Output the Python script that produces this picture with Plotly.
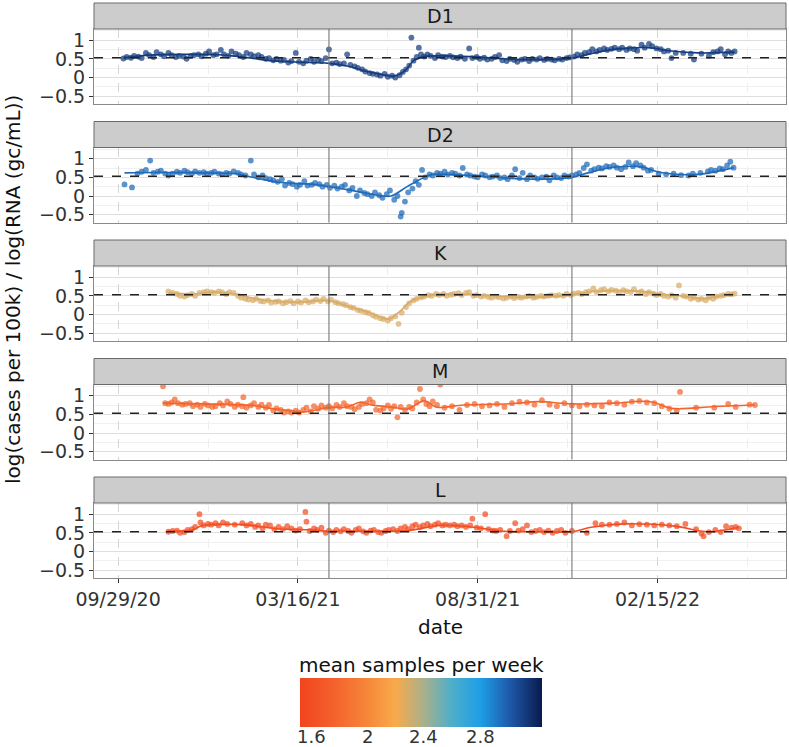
import pandas as pd
import plotly.graph_objects as go
from plotly.colors import sample_colorscale

BASE = pd.Timestamp("2020-09-29")

PANELS = ["D1", "D2", "K", "M", "L"]
SAMPLES_PER_WEEK = [3.12, 2.96, 2.28, 1.78, 1.6]

X_TICKS = ["2020-09-29", "2021-03-16", "2021-08-31", "2022-02-15"]
X_TICK_TEXT = ["09/29/20", "03/16/21", "08/31/21", "02/15/22"]
X_MINOR = ["2020-12-22", "2021-06-08", "2021-11-23", "2022-05-10"]
PERIOD_LINES = ["2021-04-14", "2021-11-27"]
Y_TICKS = [-0.5, 0, 0.5, 1]
Y_TICK_TEXT = ["\u22120.5", "0", "0.5", "1"]
Y_MINOR = [-0.25, 0.25, 0.75, 1.25]
REF_LEVEL = 0.53
CB_TICKS = [1.6, 2.0, 2.4, 2.8]
CB_TICK_TEXT = ["1.6", "2", "2.4", "2.8"]
CB_MIN, CB_MAX = 1.52, 3.24

# ---------------- D1 ----------------
d1_day = [5, 8, 12, 15, 19, 22, 26, 29, 33, 36, 40, 43, 47, 50, 54, 57, 61, 64, 68, 71, 75, 78, 82, 85, 89, 92, 96, 99,
          103, 106, 110, 113, 117, 120, 124, 127, 131, 134,
          138, 141, 145, 148, 152, 155, 159, 162, 166, 169, 173, 176, 180, 183, 187, 190, 194, 197, 200, 204, 207, 211, 214, 217,
          221, 224, 228, 231, 235, 238, 242, 245, 249, 252, 256, 259, 263, 266, 269, 272, 274, 276, 279, 281, 283, 286, 289,
          292, 296, 299, 303, 306, 310, 313, 317, 320, 324, 328, 331, 335, 338, 342, 345, 349, 352, 356, 359, 363, 366, 370,
          373, 377, 380, 384, 387, 391, 394, 398, 401, 405, 408, 412, 415,
          419, 422, 426, 429, 433, 436, 440, 443, 447, 450, 454, 457, 461, 464, 468, 471, 475, 478, 482, 485, 489, 492, 496,
          499, 503, 507, 510, 514, 517, 521, 528, 535, 538, 545, 552, 556, 560, 563, 567, 570, 573, 576]
d1_val = [0.51, 0.55, 0.53, 0.58, 0.56, 0.52, 0.66, 0.6, 0.55, 0.68, 0.62, 0.57, 0.66, 0.6, 0.55, 0.58, 0.56, 0.5, 0.58, 0.6,
          0.62, 0.57, 0.64, 0.7, 0.6, 0.62, 0.74, 0.62, 0.58, 0.7, 0.64, 0.6, 0.55, 0.66, 0.62, 0.57, 0.6, 0.55,
          0.5, 0.52, 0.46, 0.5, 0.45, 0.47, 0.4, 0.44, 0.66, 0.42, 0.38, 0.45, 0.5, 0.42, 0.48, 0.44, 0.52, 0.75, 0.38, 0.4,
          0.36, 0.38, 0.62, 0.34,
          0.3, 0.26, 0.22, 0.16, 0.12, 0.1, 0.08, 0.05, 0.1, 0.02, 0.05, 0.0, 0.06, 0.15, 0.22, 0.32, 1.07, 0.45, 0.55, 0.8,
          0.62, 0.56, 0.62,
          0.58, 0.52, 0.6, 0.56, 0.55, 0.58, 0.54, 0.52, 0.56, 0.5, 0.78, 0.52, 0.55, 0.5, 0.53, 0.48, 0.5, 0.55, 0.6, 0.46,
          0.44, 0.5, 0.47, 0.42, 0.48, 0.5, 0.44, 0.5, 0.48, 0.52, 0.47, 0.5, 0.48, 0.46, 0.5, 0.48,
          0.52, 0.54, 0.56, 0.62, 0.6, 0.66, 0.68, 0.76, 0.7, 0.74, 0.78, 0.74, 0.77, 0.8, 0.76, 0.8, 0.74, 0.78, 0.76, 0.72,
          0.88, 0.8, 0.9, 0.84, 0.78, 0.76, 0.7, 0.72, 0.52, 0.66, 0.66, 0.64, 0.48, 0.64, 0.58, 0.68, 0.7, 0.76, 0.62, 0.7,
          0.66, 0.7]
d1_fit_day = [5, 30, 60, 95, 110, 125, 139, 155, 170, 197, 215, 233, 250, 258, 268, 276, 286, 300, 329, 355, 375, 400,
              424, 445, 465, 495, 517, 542, 576]
d1_fit_val = [0.53, 0.6, 0.62, 0.61, 0.57, 0.52, 0.46, 0.43, 0.41, 0.38, 0.3, 0.16, 0.06, 0.04, 0.18, 0.45, 0.56, 0.58,
              0.56, 0.51, 0.48, 0.48, 0.52, 0.66, 0.76, 0.8, 0.71, 0.66, 0.68]

# ---------------- D2 ----------------
d2_day = [6, 13, 18, 22, 26, 30, 33, 37, 40, 44, 47, 51, 55, 58, 62, 65, 69, 72, 76, 80, 83, 87, 90, 94, 97, 101, 104,
          108, 112, 115, 119, 124, 127, 131, 135, 138, 142, 145, 149, 153, 156, 160, 163, 167, 170, 174, 177, 181, 184,
          188, 191, 195, 198, 202, 205, 209, 212, 216, 219, 223, 226, 230, 233, 237, 240, 244, 247, 251, 254, 258, 261,
          264, 265, 268, 271, 275, 278, 281, 284, 287, 291, 294, 298, 301, 305, 308, 312, 315, 319, 322, 326, 329, 333,
          336, 340, 343, 347, 350, 354, 357, 361, 364, 368, 371, 375, 378, 382, 385, 389, 392, 396, 400, 403, 407, 410,
          414, 417, 421, 424, 428, 431, 435, 438, 442, 445, 449, 452, 456, 459, 463, 466, 470, 474, 477, 481, 484, 488,
          491, 495, 498, 505, 512, 519, 526, 533, 537, 544, 551, 554, 558, 562, 565, 569, 572, 575]
d2_val = [0.31, 0.23, 0.6, 0.65, 0.7, 0.95, 0.62, 0.65, 0.68, 0.6, 0.55, 0.6, 0.65, 0.62, 0.68, 0.64, 0.6, 0.66, 0.62,
          0.64, 0.6, 0.62, 0.65, 0.6, 0.58, 0.62, 0.6, 0.66, 0.62, 0.58, 0.55, 0.95, 0.58, 0.5, 0.55, 0.48, 0.45, 0.42,
          0.38, 0.45, 0.28, 0.35, 0.32, 0.25, 0.3, 0.4, 0.28, 0.3, 0.35, 0.32, 0.25, 0.3, 0.22, 0.28, 0.2, 0.25, 0.3,
          0.15, 0.22, 0.0, 0.15, 0.08, 0.05, 0.0, 0.1, 0.02, -0.05, 0.05, 0.15, -0.1, 0.0, -0.55, -0.45, -0.15, 0.1,
          0.2, 0.4, 0.3, 0.7, 0.5, 0.58, 0.55, 0.62, 0.6, 0.65, 0.58, 0.62, 0.6, 0.55, 0.75, 0.58, 0.55, 0.52, 0.5,
          0.58, 0.55, 0.5, 0.52, 0.55, 0.48, 0.5, 0.45, 0.55, 0.72, 0.48, 0.62, 0.45, 0.55, 0.5, 0.46, 0.5, 0.52, 0.42,
          0.55, 0.5, 0.48, 0.55, 0.52, 0.55, 0.58, 0.62, 0.75, 0.85, 0.68, 0.72, 0.76, 0.74, 0.8, 0.78, 0.82, 0.76,
          0.72, 0.78, 0.9, 0.8, 0.88, 0.82, 0.76, 0.68, 0.7, 0.6, 0.58, 0.6, 0.56, 0.55, 0.6, 0.62, 0.66, 0.7, 0.68,
          0.74, 0.72, 0.82, 0.92, 0.76]
d2_fit_day = [6, 40, 80, 110, 121, 152, 183, 214, 245, 255, 270, 280, 292, 320, 339, 386, 424, 439, 463, 489, 507, 542,
              575]
d2_fit_val = [0.62, 0.63, 0.62, 0.6, 0.53, 0.36, 0.31, 0.17, 0.01, 0.0, 0.25, 0.41, 0.57, 0.56, 0.53, 0.45, 0.5, 0.62,
              0.77, 0.78, 0.63, 0.58, 0.76]

# ---------------- K ----------------
k_day = [47, 51, 55, 58, 62, 65, 69, 72, 76, 80, 83, 87, 90, 94, 97, 101, 104, 108, 112, 115, 119, 122, 126, 129, 133,
         136, 140, 143, 147, 150, 154, 157, 161, 164, 168, 171, 175, 178, 182, 185, 189, 192, 196, 199, 203, 206, 210,
         213, 217, 220, 224, 227, 231, 234, 238, 241, 245, 248, 252, 255, 259, 262, 265, 269, 272, 276, 279, 283, 286,
         290, 293, 297, 300, 304, 307, 311, 314, 318, 321, 325, 328, 332, 335, 339, 342, 346, 349, 353, 356, 360, 363,
         367, 370, 374, 377, 381, 384, 388, 391, 395, 398, 402, 405, 409, 412, 416, 419, 423, 426, 430, 433, 437, 440,
         444, 447, 451, 454, 458, 461, 465, 468, 472, 475, 479, 482, 486, 489, 493, 496, 500, 503, 507, 510, 514, 517,
         521, 524, 528, 531, 535, 538, 542, 545, 549, 552, 556, 559, 563, 566, 570, 573, 576]
k_val = [0.62, 0.58, 0.55, 0.5, 0.48, 0.52, 0.55, 0.5, 0.58, 0.6, 0.62, 0.6, 0.58, 0.62, 0.6, 0.55, 0.6, 0.58, 0.5, 0.45,
         0.42, 0.4, 0.38, 0.42, 0.36, 0.35, 0.38, 0.32, 0.34, 0.35, 0.3, 0.33, 0.36, 0.3, 0.35, 0.32, 0.38, 0.33, 0.35,
         0.4, 0.36, 0.42, 0.35, 0.4, 0.33, 0.3, 0.28, 0.25, 0.2, 0.18, 0.12, 0.1, 0.06, 0.04, -0.02, -0.06, -0.1, -0.12,
         -0.16, -0.1, -0.05, -0.25, 0.05, 0.2, 0.3, 0.38, 0.42, 0.46, 0.48, 0.52, 0.5, 0.55, 0.52, 0.55, 0.5, 0.53,
         0.55, 0.57, 0.52, 0.58, 0.6, 0.5, 0.52, 0.48, 0.5, 0.47, 0.45, 0.48, 0.46, 0.43, 0.45, 0.48, 0.44, 0.47, 0.45,
         0.48, 0.5, 0.45, 0.47, 0.5, 0.48, 0.5, 0.52, 0.5, 0.52, 0.5, 0.55, 0.52, 0.56, 0.58, 0.55, 0.6, 0.62, 0.7,
         0.6, 0.65, 0.68, 0.62, 0.66, 0.64, 0.6, 0.65, 0.62, 0.6, 0.68, 0.58, 0.62, 0.55, 0.6, 0.56, 0.52, 0.55, 0.5,
         0.48, 0.52, 0.45, 0.78, 0.5, 0.48, 0.42, 0.45, 0.4, 0.42, 0.38, 0.45, 0.42, 0.48, 0.5, 0.52, 0.55, 0.54, 0.56]
k_fit_day = [47, 70, 90, 108, 125, 139, 170, 197, 217, 233, 248, 253, 264, 273, 292, 329, 376, 414, 430, 450, 489, 507,
             526, 545, 563, 576]
k_fit_val = [0.58, 0.55, 0.6, 0.55, 0.45, 0.38, 0.33, 0.37, 0.2, 0.07, -0.1, -0.12, 0.1, 0.35, 0.52, 0.54, 0.46, 0.5,
             0.56, 0.63, 0.62, 0.55, 0.5, 0.43, 0.5, 0.55]

# ---------------- M ----------------
m_day = [42, 44, 47, 50, 53, 56, 60, 63, 67, 70, 74, 77, 81, 84, 88, 91, 95, 98, 102, 105, 109, 112, 116, 117, 120, 124,
         127, 131, 134, 138, 141, 145, 148, 152, 155, 159, 162, 166, 169, 173, 176, 180, 183, 187, 190, 194, 197, 200,
         204, 207, 211, 214, 218, 221, 225, 228, 232, 235, 238, 241, 245, 248, 252, 255, 258, 261, 264, 268, 272, 275,
         279, 282, 285, 288, 291, 294, 298, 301, 305, 312, 319, 326, 333, 340, 347, 354, 361, 368, 375, 382, 389, 396,
         403, 410, 417, 424, 431, 438, 445, 452, 459, 466, 473, 480, 487, 494, 501, 508, 515, 522, 525, 540, 557, 570,
         577, 590, 595]
m_val = [1.25, 0.8, 0.78, 0.82, 0.9, 0.8, 0.76, 0.78, 0.8, 0.72, 0.76, 0.7, 0.78, 0.74, 0.7, 0.72, 0.8, 0.74, 0.85, 0.78,
         0.7, 0.76, 0.72, 0.96, 0.68, 0.74, 0.8, 0.7, 0.76, 0.68, 0.75, 0.6, 0.66, 0.62, 0.55, 0.58, 0.55, 0.6, 0.55,
         0.62, 0.68, 0.58, 0.72, 0.65, 0.74, 0.68, 0.72, 0.66, 0.75, 0.7, 0.8, 0.72, 0.7, 0.64, 0.7, 0.78, 0.8, 0.9,
         0.82, 0.62, 0.6, 0.66, 0.74, 0.65, 0.72, 0.42, 0.7, 0.62, 0.7, 0.66, 0.82, 1.18, 0.9, 0.78, 0.72, 0.85, 0.75,
         1.3, 0.68, 0.72, 0.62, 0.75, 0.78, 0.72, 0.74, 0.78, 0.7, 0.8, 0.84, 0.82, 0.76, 0.88, 0.76, 0.72, 0.8, 0.74,
         0.72, 0.76, 0.74, 0.72, 0.82, 0.8, 0.76, 0.84, 0.86, 0.82, 0.8, 0.72, 0.65, 0.6, 1.1, 0.68, 0.68, 0.78, 0.7,
         0.76, 0.75]
m_fit_day = [42, 77, 124, 142, 161, 171, 183, 196, 214, 226, 239, 257, 270, 286, 298, 323, 370, 392, 424, 463, 489, 501,
             517, 557, 595]
m_fit_val = [0.8, 0.78, 0.74, 0.66, 0.6, 0.56, 0.61, 0.68, 0.7, 0.82, 0.74, 0.69, 0.64, 0.86, 0.69, 0.75, 0.79, 0.84,
             0.78, 0.8, 0.85, 0.82, 0.66, 0.71, 0.75]

# ---------------- L ----------------
l_day = [47, 51, 55, 58, 62, 65, 69, 72, 76, 77, 80, 84, 87, 91, 94, 98, 102, 109, 116, 120, 124, 128, 131, 135, 138,
         142, 146, 150, 154, 158, 162, 166, 170, 175, 176, 179, 183, 186, 190, 194, 197, 201, 204, 208, 211, 215, 218,
         222, 225, 229, 232, 236, 239, 243, 246, 250, 253, 257, 261, 264, 268, 271, 275, 278, 282, 285, 289, 292, 296,
         299, 303, 306, 310, 314, 317, 321, 325, 329, 331, 335, 339, 343, 346, 350, 353, 357, 363, 366, 371, 374, 378,
         382, 386, 390, 394, 398, 402, 406, 410, 414, 418, 424, 438, 446, 452, 459, 466, 473, 480, 487, 494, 501, 508,
         515, 522, 530, 540, 545, 547, 552, 558, 563, 568, 573, 577, 580]
l_val = [0.53, 0.55, 0.56, 0.5, 0.52, 0.58, 0.6, 0.66, 1.0, 0.78, 0.7, 0.74, 0.72, 0.76, 0.7, 0.78, 0.74, 0.72, 0.76, 0.7,
         0.74, 0.66, 0.7, 0.62, 0.72, 0.7, 0.6, 0.66, 0.6, 0.68, 0.62, 0.56, 0.6, 1.06, 0.8, 0.55, 0.62, 0.58, 0.64,
         0.5, 0.56, 0.52, 0.58, 0.54, 0.6, 0.55, 0.5, 0.58, 0.62, 0.54, 0.5, 0.56, 0.58, 0.52, 0.5, 0.55, 0.58, 0.6,
         0.55, 0.62, 0.66, 0.6, 0.68, 0.72, 0.65, 0.7, 0.74, 0.68, 0.72, 0.76, 0.7, 0.72, 0.7, 0.72, 0.68, 0.7, 0.66,
         0.7, 0.88, 0.64, 0.62, 1.0, 0.6, 0.56, 0.55, 0.58, 0.41, 0.55, 0.76, 0.56, 0.6, 0.7, 0.52, 0.55, 0.58, 0.52,
         0.56, 0.5, 0.55, 0.58, 0.5, 0.55, 0.5, 0.76, 0.72, 0.72, 0.74, 0.78, 0.7, 0.73, 0.72, 0.7, 0.72, 0.7, 0.68,
         0.74, 0.6, 0.48, 0.41, 0.52, 0.58, 0.52, 0.68, 0.64, 0.66, 0.62]
l_fit_day = [47, 70, 77, 89, 117, 149, 180, 196, 208, 270, 301, 333, 357, 395, 424, 442, 473, 520, 551, 580]
l_fit_val = [0.55, 0.58, 0.68, 0.72, 0.72, 0.61, 0.58, 0.54, 0.55, 0.56, 0.7, 0.65, 0.55, 0.53, 0.53, 0.65, 0.74, 0.68,
             0.53, 0.65]

POINTS = [(d1_day, d1_val), (d2_day, d2_val), (k_day, k_val), (m_day, m_val), (l_day, l_val)]
FITS = [(d1_fit_day, d1_fit_val), (d2_fit_day, d2_fit_val), (k_fit_day, k_fit_val), (m_fit_day, m_fit_val),
        (l_fit_day, l_fit_val)]

# ---------------- styling / layout ----------------
W, H = 789, 747
FONT = "DejaVu Sans"
COLORSCALE = [
    [0.0, "#F2441E"],
    [0.134, "#F4602B"],
    [0.279, "#F6873A"],
    [0.395, "#F8AA4C"],
    [0.512, "#A9B08C"],
    [0.628, "#4DAECB"],
    [0.744, "#1E9FE6"],
    [0.86, "#1F5DAE"],
    [1.0, "#0A1A4E"],
]

# plot-area box (pixels)
PLOT_L, PLOT_R, PLOT_T, PLOT_B = 94, 786, 3, 578
PANEL_STEP = 118.5
STRIP_TOP, STRIP_BOT, PANEL_BOT = 3, 29, 104
Y_RANGE = [-0.71, 1.30]
X_RANGE = ["2020-09-06 12:00", "2022-06-15"]


def to_dates(days):
    return [BASE + pd.Timedelta(days=d) for d in days]


def PX(p):
    return (p - PLOT_L) / (PLOT_R - PLOT_L)


def PY(p):
    return (PLOT_B - p) / (PLOT_B - PLOT_T)


fig = go.Figure()
shapes = []
annotations = []

for i, name in enumerate(PANELS):
    n = "" if i == 0 else str(i + 1)
    xa, ya = "x" + n, "y" + n
    spw = SAMPLES_PER_WEEK[i]
    col = sample_colorscale(COLORSCALE, [(spw - CB_MIN) / (CB_MAX - CB_MIN)])[0]
    days, vals = POINTS[i]
    fdays, fvals = FITS[i]
    fig.add_trace(go.Scatter(
        x=to_dates(days), y=vals, mode="markers", xaxis=xa, yaxis=ya, showlegend=False,
        marker=dict(size=5.8, color=[spw] * len(vals), coloraxis="coloraxis", opacity=0.72, line=dict(width=0)),
        hoverinfo="skip"))
    fig.add_trace(go.Scatter(
        x=to_dates(fdays), y=fvals, mode="lines", xaxis=xa, yaxis=ya, showlegend=False,
        line=dict(color=col, width=1.6, shape="spline", smoothing=1.0), hoverinfo="skip"))

    top = PANEL_STEP * i
    dom_y = [PY(top + PANEL_BOT), PY(top + STRIP_BOT)]
    bottom = i == len(PANELS) - 1
    fig.layout["xaxis" + n] = dict(
        domain=[0, 1], anchor=ya, type="date", range=X_RANGE, automargin=False,
        matches=None if i == 0 else "x",
        tickvals=X_TICKS, ticktext=X_TICK_TEXT, showticklabels=bottom,
        ticks="outside" if bottom else "", ticklen=4, tickcolor="#333333", tickwidth=1,
        tickfont=dict(family=FONT, size=19, color="#333333"),
        showgrid=True, gridcolor="#d6d6d6", griddash="dash", gridwidth=1,
        minor=dict(tickvals=X_MINOR, showgrid=True, gridcolor="#eeeeee", gridwidth=1),
        showline=True, mirror=True, linecolor="#8a8a8a", linewidth=1, zeroline=False)
    fig.layout["yaxis" + n] = dict(
        domain=dom_y, anchor=xa, range=Y_RANGE, tickvals=Y_TICKS, ticktext=Y_TICK_TEXT, automargin=False,
        ticks="outside", ticklen=4, tickcolor="#333333", tickwidth=1,
        tickfont=dict(family=FONT, size=19, color="#333333"),
        showgrid=True, gridcolor="#dedede", gridwidth=1,
        minor=dict(tickvals=Y_MINOR, showgrid=True, gridcolor="#f0f0f0", gridwidth=1),
        showline=True, mirror=True, linecolor="#8a8a8a", linewidth=1, zeroline=False)

    # reference level and period boundaries
    shapes.append(dict(type="line", xref=xa + " domain", x0=0, x1=1, yref=ya, y0=REF_LEVEL, y1=REF_LEVEL,
                       line=dict(color="#222222", width=1.3, dash="dash"), layer="above"))
    for d in PERIOD_LINES:
        shapes.append(dict(type="line", xref=xa, x0=d, x1=d, yref=ya + " domain", y0=0, y1=1,
                           line=dict(color="#777777", width=1.1), layer="above"))
    # strip
    shapes.append(dict(type="rect", xref="paper", yref="paper", x0=0, x1=1,
                       y0=PY(top + STRIP_BOT), y1=PY(top + STRIP_TOP),
                       fillcolor="#cccccc", line=dict(color="#6a6a6a", width=1), layer="above"))
    annotations.append(dict(text=name, xref="paper", yref="paper", x=0.5,
                            y=PY(top + (STRIP_TOP + STRIP_BOT) / 2), showarrow=False,
                            font=dict(family=FONT, size=19, color="#1a1a1a"), xanchor="center", yanchor="middle"))

# axis titles
annotations.append(dict(text="date", xref="paper", yref="paper", x=0.5, y=PY(627),
                        showarrow=False, font=dict(family=FONT, size=20, color="#111111"),
                        xanchor="center", yanchor="middle"))
annotations.append(dict(text="log(cases per 100k) / log(RNA (gc/mL))", xref="paper", yref="paper",
                        x=PX(13), y=PY(290), textangle=-90, showarrow=False,
                        font=dict(family=FONT, size=20, color="#111111"), xanchor="center", yanchor="middle"))

# colorbar geometry (pixels)
CB_CX, CB_LEN, CB_TOP, CB_BOT = 421, 242, 678, 727
cb_left = CB_CX - CB_LEN / 2
annotations.append(dict(text="mean samples per week", xref="paper", yref="paper", x=PX(CB_CX), y=PY(665),
                        showarrow=False, font=dict(family=FONT, size=20, color="#111111"),
                        xanchor="center", yanchor="middle"))
for v, t in zip(CB_TICKS, CB_TICK_TEXT):
    xp = cb_left + (v - CB_MIN) / (CB_MAX - CB_MIN) * CB_LEN
    for y0, y1 in [(CB_TOP, CB_TOP + 8), (CB_BOT - 8, CB_BOT)]:
        shapes.append(dict(type="line", xref="paper", yref="paper", x0=PX(xp), x1=PX(xp),
                           y0=PY(y0), y1=PY(y1), line=dict(color="#d4d4d4", width=3), layer="above"))
    annotations.append(dict(text=t, xref="paper", yref="paper", x=PX(xp), y=PY(736),
                            showarrow=False, font=dict(family=FONT, size=18, color="#333333"),
                            xanchor="center", yanchor="middle", borderpad=0))

fig.update_layout(
    width=W, height=H,
    margin=dict(l=PLOT_L, r=W - PLOT_R, t=PLOT_T, b=H - PLOT_B, pad=0, autoexpand=False),
    paper_bgcolor="white", plot_bgcolor="white",
    font=dict(family=FONT, size=19, color="#222222"),
    shapes=shapes, annotations=annotations,
    coloraxis=dict(
        cmin=CB_MIN, cmax=CB_MAX, colorscale=COLORSCALE,
        colorbar=dict(orientation="h", x=PX(CB_CX), xanchor="center", y=PY(CB_TOP), yanchor="top",
                      len=CB_LEN, lenmode="pixels", thickness=CB_BOT - CB_TOP, thicknessmode="pixels",
                      showticklabels=False, ticks="", title=dict(text=""),
                      outlinewidth=0, xpad=0, ypad=0)),
)

fig.write_html("out.html", config={"displayModeBar": False},
               post_script="document.body.style.margin='0px';")
